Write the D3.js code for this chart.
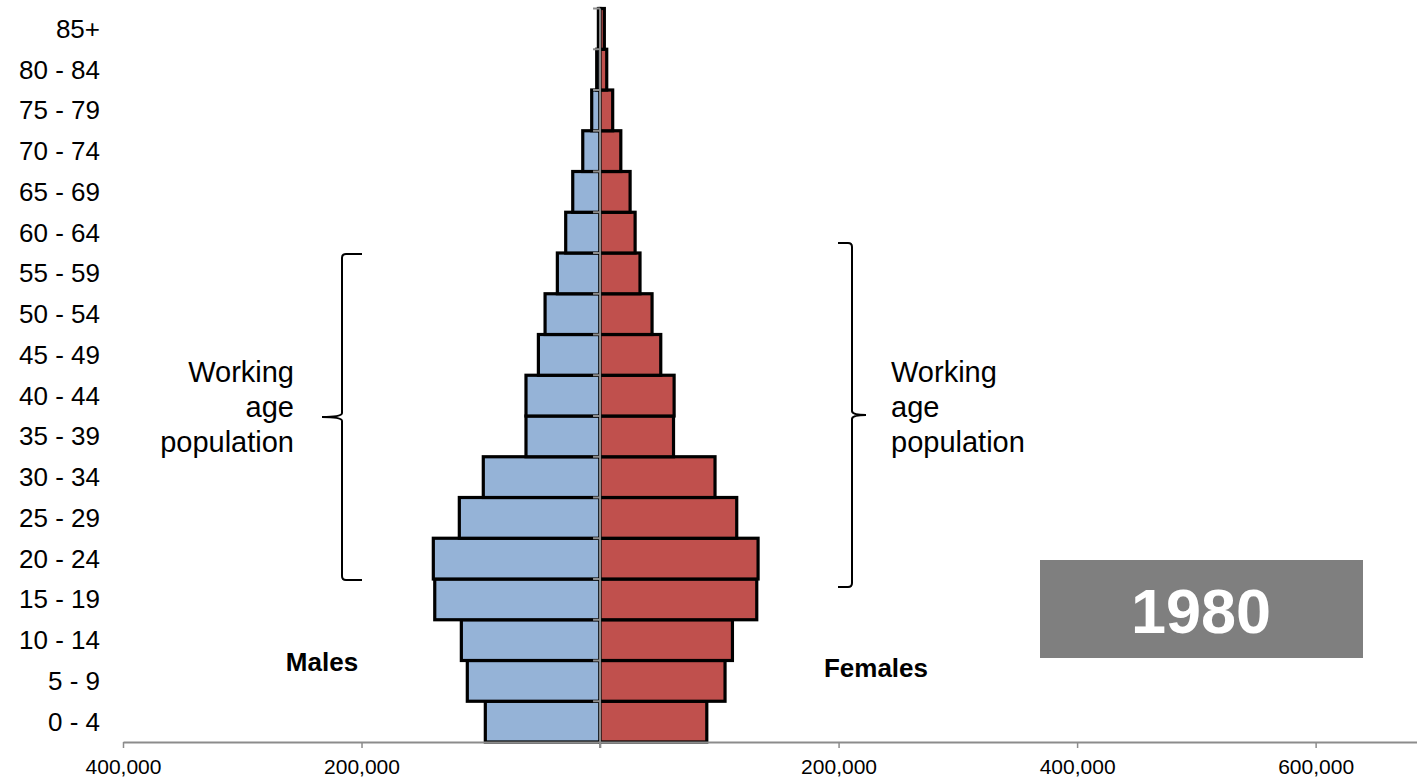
<!DOCTYPE html>
<html>
<head>
<meta charset="utf-8">
<script src="https://cdn.jsdelivr.net/npm/d3@7"></script>
<style>
  html, body { margin: 0; padding: 0; background: #fff; }
  svg { display: block; font-family: "Liberation Sans", Arial, sans-serif; }
</style>
</head>
<body>
<svg id="chart" width="1417" height="778"></svg>
<script>
// Age groups, youngest first
const ageGroups = ["0 - 4", "5 - 9", "10 - 14", "15 - 19", "20 - 24", "25 - 29", "30 - 34",
  "35 - 39", "40 - 44", "45 - 49", "50 - 54", "55 - 59", "60 - 64", "65 - 69",
  "70 - 74", "75 - 79", "80 - 84", "85+"];

// Population by age group, 1980
const males = [96200, 111300, 116300, 138600, 139800, 118000, 97900,
  62100, 62100, 51700, 46100, 35800, 28800, 22900, 14500, 7000, 2800, 1400];
const females = [89500, 104800, 111000, 131400, 132500, 114600, 96400,
  61600, 62100, 50900, 43600, 33500, 29400, 25200, 17400, 10600, 5600, 3600];

// Axis ticks (males plotted as negatives)
const tickValues = [-400000, -200000, 0, 200000, 400000, 600000];

const yearLabel = "1980";

const svg = d3.select("#chart");

const x = d3.scaleLinear().domain([-400000, 685000]).range([123, 1417]);
const y = d3.scaleBand().domain(ageGroups).range([742, 8.5]).padding(0);
const x0 = x(0);

// Bars
const bars = svg.append("g");
bars.selectAll("rect.m").data(ageGroups).join("rect")
  .attr("class", "m")
  .attr("x", (d, i) => x(-males[i]))
  .attr("y", d => y(d))
  .attr("width", (d, i) => x0 - x(-males[i]))
  .attr("height", y.bandwidth())
  .attr("fill", "#95b3d7")
  .attr("stroke", "#000")
  .attr("stroke-width", 3.2);

bars.selectAll("rect.f").data(ageGroups).join("rect")
  .attr("class", "f")
  .attr("x", x0)
  .attr("y", d => y(d))
  .attr("width", (d, i) => x(females[i]) - x0)
  .attr("height", y.bandwidth())
  .attr("fill", "#c0504d")
  .attr("stroke", "#000")
  .attr("stroke-width", 3.2);

// Central category axis with ticks at band boundaries
const mid = svg.append("g").attr("stroke", "#8c8c8c").attr("stroke-width", 2);
mid.append("line").attr("x1", x0).attr("x2", x0).attr("y1", 8.5).attr("y2", 748);
mid.selectAll("line.t").data(ageGroups.map(d => y(d))).join("line")
  .attr("class", "t")
  .attr("x1", x0 - 7).attr("x2", x0)
  .attr("y1", d => d).attr("y2", d => d);

// Age labels
svg.append("g").selectAll("text").data(ageGroups).join("text")
  .attr("x", 100)
  .attr("y", d => y(d) + y.bandwidth() / 2 + 9)
  .attr("text-anchor", "end")
  .attr("font-size", 26)
  .attr("fill", "#000")
  .text(d => d);

// Value axis
const xAxis = d3.axisBottom(x)
  .tickValues(tickValues)
  .tickSize(6)
  .tickSizeOuter(0)
  .tickFormat(v => v === 0 ? "" : d3.format(",")(Math.abs(v)));
const gx = svg.append("g").attr("transform", "translate(0,742)").call(xAxis);
gx.select(".domain").attr("stroke", "#8c8c8c").attr("stroke-width", 2);
gx.selectAll(".tick line").attr("stroke", "#8c8c8c").attr("stroke-width", 1.5);
gx.selectAll(".tick text")
  .attr("font-size", 21)
  .attr("font-family", "Liberation Sans, Arial, sans-serif")
  .attr("fill", "#000")
  .attr("dy", 0)
  .attr("y", 32);

// Braces marking the working age span
function brace(xLine, yTop, yBot, yMid, hook, tip) {
  const r = 4;
  const s = Math.sign(hook);
  return `M${xLine + hook},${yTop} L${xLine + s * r},${yTop} Q${xLine},${yTop} ${xLine},${yTop + r}`
    + ` L${xLine},${yMid - r} Q${xLine},${yMid} ${xLine + tip},${yMid}`
    + ` M${xLine + tip},${yMid} Q${xLine},${yMid} ${xLine},${yMid + r}`
    + ` L${xLine},${yBot - r} Q${xLine},${yBot} ${xLine + s * r},${yBot} L${xLine + hook},${yBot}`;
}
svg.append("path")
  .attr("d", brace(342, 254, 580, 417, 20, -20))
  .attr("fill", "none").attr("stroke", "#000").attr("stroke-width", 2);
svg.append("path")
  .attr("d", brace(852, 243, 587, 415, -14, 14))
  .attr("fill", "none").attr("stroke", "#000").attr("stroke-width", 2);

// Annotation text
const lines = ["Working", "age", "population"];
const lineY = [382, 417, 452];
svg.append("g").selectAll("text").data(lines).join("text")
  .attr("x", 294).attr("y", (d, i) => lineY[i])
  .attr("text-anchor", "end").attr("font-size", 29).text(d => d);
svg.append("g").selectAll("text").data(lines).join("text")
  .attr("x", 891).attr("y", (d, i) => lineY[i])
  .attr("text-anchor", "start").attr("font-size", 29).text(d => d);

// Sex labels
svg.append("text").attr("x", 322).attr("y", 671).attr("text-anchor", "middle")
  .attr("font-size", 26).attr("font-weight", "bold").text("Males");
svg.append("text").attr("x", 876).attr("y", 677).attr("text-anchor", "middle")
  .attr("font-size", 26).attr("font-weight", "bold").text("Females");

// Year badge
svg.append("rect").attr("x", 1040).attr("y", 560).attr("width", 323).attr("height", 98)
  .attr("fill", "#7f7f7f");
svg.append("text").attr("x", 1201).attr("y", 633).attr("text-anchor", "middle")
  .attr("font-size", 63).attr("font-weight", "bold").attr("fill", "#fff").text(yearLabel);
</script>
</body>
</html>
